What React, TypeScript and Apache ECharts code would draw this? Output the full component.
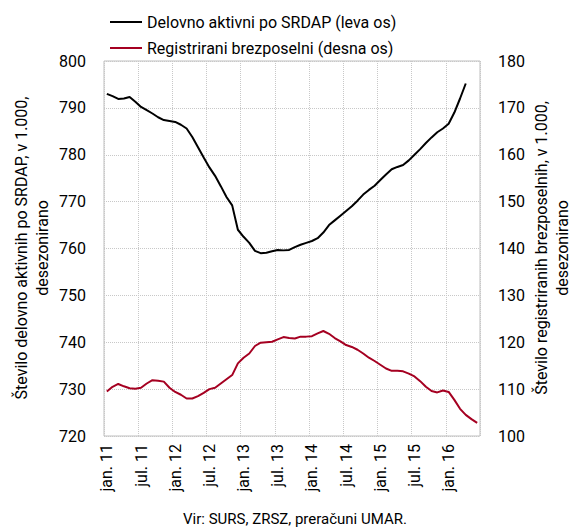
import React, { useEffect, useRef } from "react";
import * as echarts from "echarts";

const START_YEAR = 2011;
const MONTH_COUNT = 66; // jan. 11 – jun. 16

const employed: number[] = [
  793.0, 792.5, 791.9, 792.0, 792.3, 791.3, 790.2, 789.5, 788.8, 788.0, 787.4, 787.2,
  787.0, 786.4, 785.6, 783.8, 781.6, 779.4, 777.3, 775.5, 773.3, 771.0, 769.2, 764.0,
  762.5, 761.2, 759.5, 759.0, 759.1, 759.4, 759.7, 759.6, 759.7, 760.3, 760.8, 761.2,
  761.6, 762.2, 763.4, 765.0, 766.0, 767.0, 768.0, 769.0, 770.2, 771.5, 772.5, 773.4,
  774.6, 775.8, 776.9, 777.4, 777.8, 778.8, 780.0, 781.2, 782.5, 783.7, 784.8, 785.6,
  786.6, 789.0, 792.0, 795.2,
];

const unemployed: number[] = [
  109.5, 110.5, 111.1, 110.6, 110.2, 110.1, 110.3, 111.2, 111.9, 111.8, 111.6, 110.3,
  109.4, 108.8, 108.0, 108.0, 108.5, 109.2, 110.0, 110.3, 111.2, 112.1, 113.0, 115.5,
  116.7, 117.6, 119.2, 119.9, 120.0, 120.1, 120.6, 121.1, 120.9, 120.8, 121.2, 121.2,
  121.3, 121.9, 122.4, 121.8, 120.9, 120.2, 119.4, 119.0, 118.4, 117.6, 116.7, 116.0,
  115.2, 114.4, 113.9, 113.9, 113.8, 113.3, 112.7, 111.7, 110.5, 109.6, 109.3, 109.7,
  109.4, 107.7, 105.8, 104.5, 103.6, 102.8,
];

const MONTH_NAMES = ["jan.", "feb.", "mar.", "apr.", "maj", "jun.", "jul.", "avg.", "sep.", "okt.", "nov.", "dec."];
const categories: string[] = [];
for (let i = 0; i < MONTH_COUNT; i++) {
  const y = START_YEAR + Math.floor(i / 12);
  categories.push(MONTH_NAMES[i % 12] + " " + String(y).slice(2));
}

const LEFT_NAME = "Delovno aktivni po SRDAP (leva os)";
const RIGHT_NAME = "Registrirani brezposelni (desna os)";
const LEFT_TITLE = ["Število delovno aktivnih po SRDAP, v 1.000,", "desezonirano"];
const RIGHT_TITLE = ["Število registriranih brezposelnih, v 1.000,", "desezonirano"];
const SOURCE = "Vir: SURS, ZRSZ, preračuni UMAR.";

const FONT = "Roboto, 'Liberation Sans', sans-serif";
const RED = "#a50021";

function vText(text: string, x: number, y: number) {
  return {
    type: "text",
    x,
    y,
    rotation: Math.PI / 2,
    style: {
      text,
      fontSize: 16,
      fontFamily: FONT,
      fill: "#000",
      align: "center",
      verticalAlign: "middle",
    },
  };
}

export default function App() {
  const ref = useRef<HTMLDivElement>(null);
  useEffect(() => {
    if (!ref.current) return;
    const chart = echarts.init(ref.current, undefined, { renderer: "svg" });
    chart.setOption({
      animation: false,
      textStyle: { fontFamily: FONT },
      grid: {
        left: 104,
        right: 101,
        top: 61,
        bottom: 92,
        show: true,
        borderColor: "#bfbfbf",
        borderWidth: 1,
        containLabel: false,
      },
      legend: {
        orient: "vertical",
        left: 105,
        top: 9,
        itemWidth: 32,
        itemHeight: 2,
        itemGap: 10,
        icon: "rect",
        textStyle: { fontSize: 16, color: "#000", fontFamily: FONT },
        data: [LEFT_NAME, RIGHT_NAME],
      },
      xAxis: {
        type: "category",
        data: categories,
        boundaryGap: true,
        axisLine: { show: false },
        axisTick: { show: false },
        axisLabel: {
          interval: 5,
          rotate: 90,
          fontSize: 16,
          color: "#000",
          margin: 8,
          fontFamily: FONT,
        },
        splitLine: {
          show: true,
          interval: 5,
          lineStyle: { color: "#c8c8c8", type: "dotted", width: 1 },
        },
      },
      yAxis: [
        {
          type: "value",
          min: 720,
          max: 800,
          interval: 10,
          position: "left",
          axisLine: { show: false },
          axisTick: { show: false },
          axisLabel: { fontSize: 16, color: "#000", margin: 18, fontFamily: FONT },
          splitLine: { show: true, lineStyle: { color: "#c8c8c8", type: "dotted", width: 1 } },
        },
        {
          type: "value",
          min: 100,
          max: 180,
          interval: 10,
          position: "right",
          axisLine: { show: false },
          axisTick: { show: false },
          axisLabel: { fontSize: 16, color: "#000", margin: 18, fontFamily: FONT },
          splitLine: { show: false },
        },
      ],
      graphic: [
        vText(LEFT_TITLE[0], 21, 248),
        vText(LEFT_TITLE[1], 42, 248),
        vText(RIGHT_TITLE[0], 541, 248),
        vText(RIGHT_TITLE[1], 562, 248),
        {
          type: "text",
          x: 295,
          y: 519,
          style: {
            text: SOURCE,
            fontSize: 15,
            fontFamily: FONT,
            fill: "#000",
            align: "center",
            verticalAlign: "middle",
          },
        },
      ],
      series: [
        {
          name: LEFT_NAME,
          type: "line",
          yAxisIndex: 0,
          data: employed,
          showSymbol: false,
          symbol: "none",
          lineStyle: { color: "#000", width: 2 },
          itemStyle: { color: "#000" },
        },
        {
          name: RIGHT_NAME,
          type: "line",
          yAxisIndex: 1,
          data: unemployed,
          showSymbol: false,
          symbol: "none",
          lineStyle: { color: RED, width: 2 },
          itemStyle: { color: RED },
        },
      ],
    });
    return () => chart.dispose();
  }, []);
  return (
    <div
      ref={ref}
      style={{ position: "absolute", left: 0, top: 0, width: 581, height: 528 }}
    />
  );
}
